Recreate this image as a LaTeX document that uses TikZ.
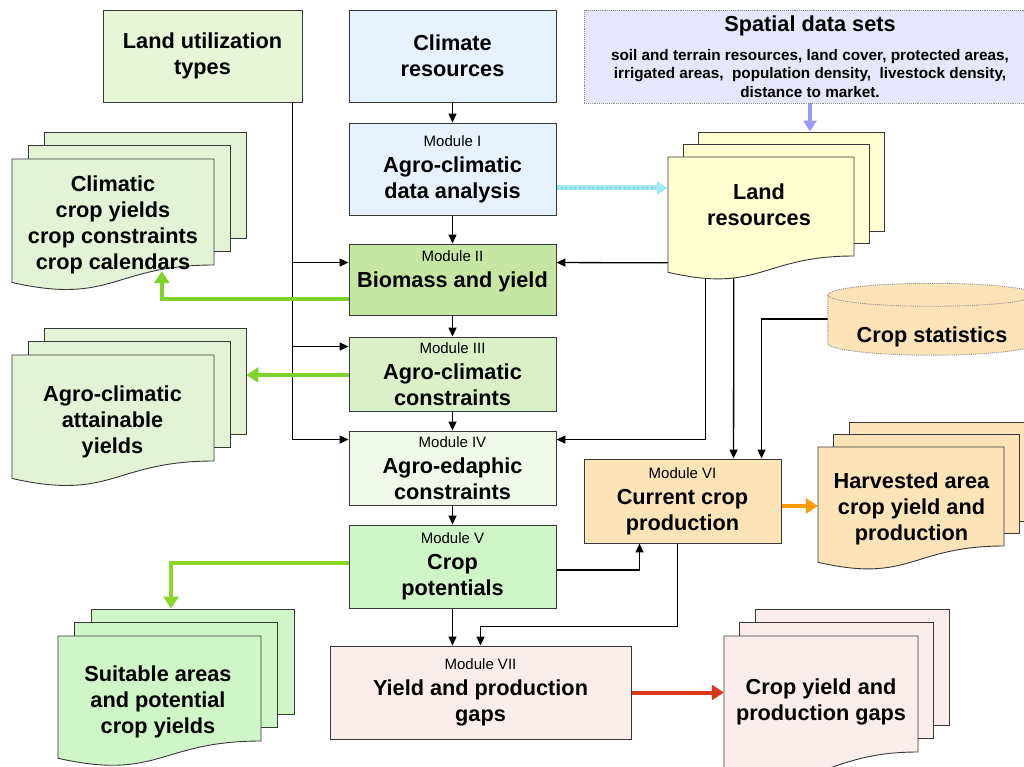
\documentclass[tikz,border=0pt]{standalone}
\usepackage{fontspec}
\setmainfont{Liberation Sans}
\usetikzlibrary{arrows.meta,backgrounds,calc}
\definecolor{lutfill}{HTML}{E8F5D6}
\definecolor{bluefill}{HTML}{E6F2FF}
\definecolor{lavfill}{HTML}{E6E6FC}
\definecolor{mtwofill}{HTML}{C6E6A4}
\definecolor{mthreefill}{HTML}{DAF0C8}
\definecolor{mfourfill}{HTML}{F0F9E8}
\definecolor{mfivefill}{HTML}{CFF5C8}
\definecolor{docgreen}{HTML}{E4F3D6}
\definecolor{yelfill}{HTML}{FFFFD2}
\definecolor{orfill}{HTML}{FCE3B8}
\definecolor{pinkfill}{HTML}{FCEDED}
\definecolor{arrgreen}{HTML}{7ED32A}
\definecolor{arrorange}{HTML}{FF9A00}
\definecolor{arrred}{HTML}{D8381C}
\definecolor{arrlav}{HTML}{9A9AF8}
\definecolor{arrcyan}{HTML}{A6E8F2}
\definecolor{arrcyandot}{HTML}{7CD6E4}
\newcommand\bigf{\bfseries\fontsize{21.7}{26}\selectfont}
\newcommand\modf{\normalfont\fontsize{15}{18}\selectfont}
\newcommand\subf{\bfseries\fontsize{15.3}{18.5}\selectfont}
\tikzset{
 box/.style={draw=black!78, line width=0.9pt, inner sep=0pt, align=center, font=\bigf, minimum width=207pt},
 page/.style={draw=black!78, line width=0.9pt, inner sep=0pt},
 txt/.style={inner sep=0pt, align=center, font=\bigf},
 conn/.style={draw=black, line width=1.3pt, -{Triangle[length=9pt,width=8pt]}},
 fat/.style={line width=4.5pt, -{Triangle[length=12pt,width=15pt]}},
}
% name, L, T, R, B, dx, dy, fill
\newcommand\docstack[8]{%
 \pgfmathsetmacro\dsW{#4-#2}\pgfmathsetmacro\dsH{#5-#3}%
 \pgfmathsetmacro\dsCX{(#2+#4)/2}\pgfmathsetmacro\dsCY{(#3+#5)/2}%
 \node[page,fill=#8,minimum width=\dsW pt,minimum height=\dsH pt] (#1c) at ({\dsCX+2*#6},{\dsCY-2*#7}) {};
 \node[page,fill=#8,minimum width=\dsW pt,minimum height=\dsH pt] (#1b) at ({\dsCX+#6},{\dsCY-#7}) {};
 \path[page,fill=#8] (#2,#3) -- (#4,#3) -- (#4,#5) .. controls (\dsCX,#5) and (\dsCX,{#3+1.381*\dsH}) .. (#2,{#3+1.1646*\dsH}) -- cycle;
 \node[inner sep=0pt,minimum width=\dsW pt,minimum height=\dsH pt] (#1) at (\dsCX,\dsCY) {};
}
\begin{document}
\begin{tikzpicture}[x=1pt,y=-1pt]
\useasboundingbox (0,0) rectangle (1024,767);
\begin{scope}[on background layer]
\fill[white] (0,0) rectangle (1024,767);
\end{scope}

% top row
\node[box, fill=lutfill, minimum width=199pt, minimum height=92pt] (lut) at (202.5,56) {Land utilization\\types};
\node[box, fill=bluefill, minimum height=92pt] (clim) at (452.5,56) {Climate\\resources};
\node[box, draw=black!45, densely dotted, fill=lavfill, minimum width=452pt, minimum height=93pt, font=\subf] (sds) at (810,56.5)
 {{\fontsize{21.7}{26}\selectfont Spatial data sets}\\[10pt]soil and terrain resources, land cover, protected areas,\\irrigated areas,\ \ population density,\ \ livestock density,\\distance to market.};

% modules
\node[box, fill=bluefill, minimum height=92pt] (m1) at (452.5,169) {{\modf Module I}\\Agro-climatic\\data analysis};
\node[box, fill=mtwofill, minimum height=71pt] (m2) at (452.5,279.5) {};
\node[txt] (m2t) at (452.5,271) {{\modf Module II}\\Biomass and yield};
\node[box, fill=mthreefill, minimum height=74pt] (m3) at (452.5,374) {{\modf Module III}\\Agro-climatic\\constraints};
\node[box, fill=mfourfill, minimum height=74pt] (m4) at (452.5,468) {{\modf Module IV}\\Agro-edaphic\\constraints};
\node[box, fill=mfivefill, minimum height=83pt] (m5) at (452.5,566.5) {{\modf Module V}\\Crop\\potentials};
\node[box, fill=orfill, minimum width=197pt, minimum height=84pt] (m6) at (682.5,501) {{\modf Module VI}\\Current crop\\production};
\node[box, fill=pinkfill, minimum width=301pt, minimum height=93pt] (m7) at (480.5,692.5) {{\modf Module VII}\\Yield and production\\gaps};

% document stacks
\docstack{cc}{12}{159}{214}{265}{16}{13.5}{docgreen}
\node[txt] (cct) at (113,225) {Climatic\\crop yields\\crop constraints\\crop calendars};
\docstack{ay}{12}{355}{214}{461}{16}{13.5}{docgreen}
\node[txt] (ayt) at (112.5,421.5) {Agro-climatic\\attainable\\yields};
\docstack{sa}{58}{636}{261}{741}{16.5}{13.5}{mfivefill}
\node[txt] (sat) at (158,702) {Suitable areas\\and potential\\crop yields};
\docstack{lr}{668}{157}{854}{256}{15}{12.5}{yelfill}
\node[txt] (lrt) at (759,205) {Land\\resources};
\docstack{ha}{818}{447}{1004}{546}{15.5}{12.5}{orfill}
\node[txt] (hat) at (911.5,508.5) {Harvested area\\crop yield and\\production};
\docstack{cg}{724}{636}{918}{752}{15.5}{13.5}{pinkfill}
\node[txt] (cgt) at (821,702) {Crop yield and\\production gaps};

% crop statistics cylinder
\node[inner sep=0pt, minimum width=208pt, minimum height=48pt] (cs) at (932,319) {};
\path[draw=black!45, densely dotted, line width=0.9pt, fill=orfill] (cs.north west) -- (cs.south west)
  arc[start angle=180,end angle=360,x radius=104pt,y radius=12pt] -- (cs.north east)
  arc[start angle=0,end angle=180,x radius=104pt,y radius=11.5pt] -- cycle;
\draw[black!45, densely dotted, line width=0.9pt] (cs.north west) arc[start angle=180,end angle=360,x radius=104pt,y radius=11.5pt];
\node[txt] (cst) at (932,337) {Crop statistics};

% connectors
\begin{scope}[on background layer]
\draw[conn] (clim.south) -- (m1.north);
\draw[conn] (m1.south) -- (m2.north);
\draw[conn] (m2.south) -- (m3.north);
\draw[conn] (m3.south) -- (m4.north);
\draw[conn] (m4.south) -- (m5.north);
\draw[conn] (m5.south) -- (m5.south |- m7.north);
\draw[conn] ([xshift=-10pt]lut.south east) |- ([yshift=-19pt]m2.north west);
\draw[conn] ([xshift=-10pt]lut.south east) |- ([yshift=-10pt]m3.north west);
\draw[conn] ([xshift=-10pt]lut.south east) |- ([yshift=-9pt]m4.north west);
\draw[conn] ([yshift=-106pt]lr.north west) -- ([yshift=-19pt]m2.north east);
\coordinate (lrA) at ([xshift=38pt]lr.south west);
\coordinate (lrB) at ([xshift=66pt]lr.south west);
\draw[conn] (lrA) |- ([yshift=-9pt]m4.north east);
\draw[conn] (lrB) -- ([xshift=150pt]m6.north west);
\draw[conn] (cs.west) -| ([xshift=178pt]m6.north west);
\coordinate (p5) at ([yshift=-3.5pt]m5.east);
\draw[conn] (p5) -| ([xshift=56pt]m6.south west);
\draw[conn] ([xshift=94pt]m6.south west) |- ([yshift=19pt]m7.north) -- (m7.north);
% coloured arrows
\coordinate (g2) at ([yshift=-19.5pt]m2.west);
\draw[fat, draw=arrgreen] (g2) -| ([xshift=150pt,yshift=-6pt]cc.south west);
\coordinate (g3) at ([yshift=-1pt]m3.west);
\draw[fat, draw=arrgreen] (g3) -- (g3 -| ayc.east);
\coordinate (g5) at ([yshift=3.5pt]m5.west);
\draw[fat, draw=arrgreen!90!yellow] (g5) -| ([xshift=-21.5pt]sac.north);
\coordinate (o6) at ([yshift=-5pt]m6.east);
\draw[fat, draw=arrorange, line width=4pt] (o6) -- (o6 -| ha.west);
\draw[fat, draw=arrred, line width=4pt] (m7.east) -- (m7.east -| cg.west);
\coordinate (c1) at ([yshift=-19pt]m1.east);
\draw[draw=arrcyan, line width=5pt, -{Triangle[length=11pt,width=13pt]}] (c1) -- (c1 -| lr.west);
\draw[draw=arrcyandot, line width=2.5pt, dash pattern=on 2pt off 2.5pt, shorten >=12pt] (c1) -- (c1 -| lr.west);
\draw[draw=arrlav, line width=4pt, -{Triangle[length=11pt,width=13pt]}] (sds.south) -- (sds.south |- lrc.north);
\end{scope}
\end{tikzpicture}
\end{document}
